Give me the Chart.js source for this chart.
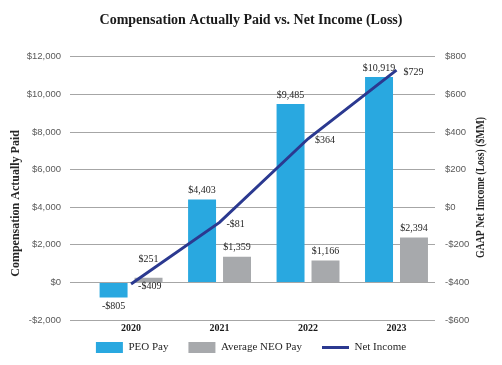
<!DOCTYPE html>
<html>
<head>
<meta charset="utf-8">
<script src="https://cdn.jsdelivr.net/npm/chart.js@4.4.1/dist/chart.umd.min.js"></script>
<style>
  html, body { margin: 0; padding: 0; background: #fff; }
  #wrap { width: 502px; height: 365px; }
</style>
</head>
<body>
<div id="wrap"><canvas id="chart"></canvas></div>
<script>
const years = ["2020", "2021", "2022", "2023"];
const peoPay = [-805, 4403, 9485, 10919];
const neoPay = [251, 1359, 1166, 2394];
const netIncome = [-409, -81, 364, 729];

const payTicks = [-2000, 0, 2000, 4000, 6000, 8000, 10000, 12000];
const incomeTicks = [-600, -400, -200, 0, 200, 400, 600, 800];

const seriesNames = ["PEO Pay", "Average NEO Pay", "Net Income"];
const chartTitle = "Compensation Actually Paid vs. Net Income (Loss)";
const leftTitle = "Compensation Actually Paid";
const rightTitle = "GAAP Net Imcome (Loss) ($MM)";

const SERIF = "'Liberation Serif', 'Times New Roman', serif";
const SANS = "'Liberation Sans', Arial, sans-serif";

function money(v) {
  return (v < 0 ? "-" : "") + "$" + Math.abs(v).toLocaleString("en-US");
}

function toPoints(values) {
  return values.map((v, i) => ({ x: i, y: v }));
}

// values printed next to bars and line points
const valueLabels = {
  id: "valueLabels",
  afterDatasetsDraw(chart) {
    const ctx = chart.ctx;
    ctx.save();
    ctx.font = "10px " + SERIF;
    ctx.fillStyle = "#262626";
    ctx.textBaseline = "middle";

    const lineBoxes = [];
    chart.data.datasets.forEach((ds, di) => {
      if (ds.type !== "line") return;
      chart.getDatasetMeta(di).data.forEach((el, i) => {
        const text = money(ds.data[i].y);
        const x = el.x + 7;
        const y = el.y + 2;
        lineBoxes.push({ x1: x, x2: x + ctx.measureText(text).width, y });
        ctx.textAlign = "left";
        ctx.fillText(text, x, y);
      });
    });

    chart.data.datasets.forEach((ds, di) => {
      if (ds.type === "line") return;
      chart.getDatasetMeta(di).data.forEach((el, i) => {
        const v = ds.data[i].y;
        const text = money(v);
        const w = ctx.measureText(text).width;
        let y = el.y + (v < 0 ? 9 : -9);
        // lift a label that sits too close above a line label
        lineBoxes.forEach((b) => {
          const overlapX = el.x + w / 2 > b.x1 && el.x - w / 2 < b.x2;
          if (overlapX && b.y > y && b.y - y < 22) y -= 9;
        });
        ctx.textAlign = "center";
        ctx.fillText(text, el.x, y);
      });
    });
    ctx.restore();
  },
};

// both axis titles read bottom-to-top
function drawSideTitle(ctx, text, x, y, maxWidth) {
  ctx.save();
  ctx.font = "bold 12px " + SERIF;
  ctx.fillStyle = "#262626";
  ctx.textAlign = "center";
  ctx.textBaseline = "middle";
  ctx.translate(x, y);
  ctx.rotate(-Math.PI / 2);
  ctx.fillText(text, 0, 0, maxWidth);
  ctx.restore();
}

const axisTitles = {
  id: "axisTitles",
  afterDraw(chart) {
    const area = chart.chartArea;
    const mid = (area.top + area.bottom) / 2;
    drawSideTitle(chart.ctx, leftTitle, 16, mid + 15, 153);
    drawSideTitle(chart.ctx, rightTitle, 481, mid - 1, 141);
  },
};

// legend keeps wide gaps between items without a tall legend box
const legendGap = {
  id: "legendGap",
  beforeLayout(chart) {
    const legend = chart.legend;
    if (legend && !legend._trimmed) {
      const fit = legend.fit;
      legend.fit = function () {
        fit.call(this);
        this.height -= 12;
      };
      legend._trimmed = true;
    }
  },
  afterLayout(chart) {
    if (chart.legend) chart.legend.top -= 14;
  },
};

new Chart(document.getElementById("chart"), {
  type: "bar",
  data: {
    datasets: [
      {
        label: seriesNames[0],
        data: toPoints(peoPay),
        backgroundColor: "#29a8e0",
        pointStyle: "rect",
        yAxisID: "y",
        order: 1,
      },
      {
        label: seriesNames[1],
        data: toPoints(neoPay),
        backgroundColor: "#a7a9ac",
        pointStyle: "rect",
        yAxisID: "y",
        order: 1,
      },
      {
        type: "line",
        label: seriesNames[2],
        data: toPoints(netIncome),
        borderColor: "#2b3990",
        backgroundColor: "#2b3990",
        borderWidth: 3,
        pointRadius: 0,
        pointStyle: "line",
        yAxisID: "y1",
        order: 0,
      },
    ],
  },
  options: {
    responsive: true,
    maintainAspectRatio: false,
    animation: false,
    categoryPercentage: 0.79,
    barPercentage: 0.8,
    layout: { padding: { left: 0, right: 0, top: 0, bottom: 0 } },
    plugins: {
      title: {
        display: true,
        text: chartTitle,
        color: "#1a1a1a",
        font: { family: SERIF, size: 14, weight: "bold" },
        padding: { top: 12, bottom: 28 },
      },
      legend: {
        position: "bottom",
        labels: {
          usePointStyle: true,
          pointStyleWidth: 27,
          boxHeight: 11,
          padding: 20,
          color: "#262626",
          font: { family: SERIF, size: 11 },
          sort: (a, b) => a.datasetIndex - b.datasetIndex,
        },
      },
      tooltip: { enabled: false },
    },
    scales: {
      x: {
        type: "linear",
        min: -0.69,
        max: 3.435,
        offset: false,
        afterBuildTicks: (scale) => {
          scale.ticks = years.map((_, i) => ({ value: i }));
        },
        grid: { display: false, drawTicks: false, offset: false },
        border: { display: false },
        ticks: {
          padding: 2,
          autoSkip: false,
          maxRotation: 0,
          color: "#1a1a1a",
          font: { family: SERIF, size: 10, weight: "bold" },
          callback: (v) => years[v],
        },
      },
      y: {
        position: "left",
        min: payTicks[0],
        max: payTicks[payTicks.length - 1],
        afterBuildTicks: (scale) => {
          scale.ticks = payTicks.map((v) => ({ value: v }));
        },
        afterFit: (scale) => {
          scale.width = 70;
        },
        grid: { color: "#a6a6a6", drawTicks: false },
        border: { display: false },
        ticks: {
          padding: 9,
          color: "#595959",
          font: { family: SANS, size: 9.5 },
          callback: (v) => money(v),
        },
      },
      y1: {
        position: "right",
        min: incomeTicks[0],
        max: incomeTicks[incomeTicks.length - 1],
        afterBuildTicks: (scale) => {
          scale.ticks = incomeTicks.map((v) => ({ value: v }));
        },
        afterFit: (scale) => {
          scale.width = 67;
        },
        grid: { display: false, drawTicks: false },
        border: { display: false },
        ticks: {
          padding: 10,
          color: "#595959",
          font: { family: SANS, size: 9.5 },
          callback: (v) => money(v),
        },
      },
    },
  },
  plugins: [valueLabels, axisTitles, legendGap],
});
</script>
</body>
</html>
